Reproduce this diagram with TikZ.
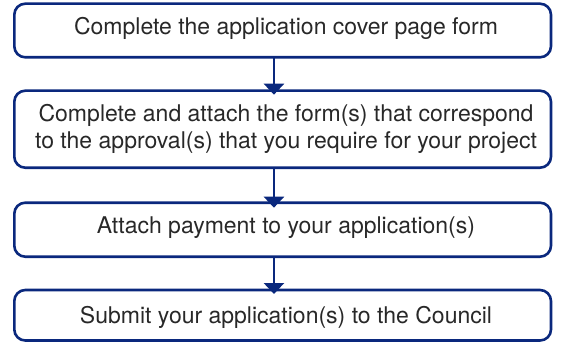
\documentclass[tikz,border=0pt]{standalone}
\usepackage{fontspec}
\setmainfont{TeX Gyre Heros}
\usetikzlibrary{arrows.meta}
\definecolor{navy}{RGB}{10,40,125}
\definecolor{txt}{RGB}{40,40,40}
\tikzset{
  box/.style={draw=navy, line width=2.6pt, rounded corners=11pt, minimum width=536.7pt, inner sep=0pt, outer sep=0pt},
  lbl/.style={anchor=base, text=txt, inner sep=0pt, font=\fontsize{23}{27}\selectfont},
  arr/.style={draw=navy, line width=2.6pt, -{Triangle[width=20pt,length=11pt]}}
}
\begin{document}
\begin{tikzpicture}[x=1pt,y=-1pt]
\useasboundingbox (0,0) rectangle (561,342);
\node[box, minimum height=53.6pt] (b1) at (282.65,30.5) {};
\node[box, minimum height=77pt] (b2) at (282.65,129.2) {};
\node[box, minimum height=54pt] (b3) at (282.65,229.7) {};
\node[box, minimum height=50.5pt] (b4) at (282.65,315.25) {};
\node[lbl] (t1) at (286,35) {Complete the application cover page form};
\node[lbl] (t2a) at (286,121.7) {Complete and attach the form(s) that correspond};
\node[lbl] (t2b) at (286,148.3) {to the approval(s) that you require for your project};
\node[lbl] (t3) at (286,233.3) {Attach payment to your application(s)};
\node[lbl] (t4) at (286,323) {Submit your application(s) to the Council};
\draw[arr] ([xshift=-8.7pt]b1.south) -- ([xshift=-8.7pt,yshift=-4pt]b2.north);
\draw[arr] ([xshift=-8.7pt]b2.south) -- ([xshift=-8.7pt,yshift=-5pt]b3.north);
\draw[arr] ([xshift=-8.7pt]b3.south) -- ([xshift=-8.7pt,yshift=-4pt]b4.north);
\end{tikzpicture}
\end{document}
